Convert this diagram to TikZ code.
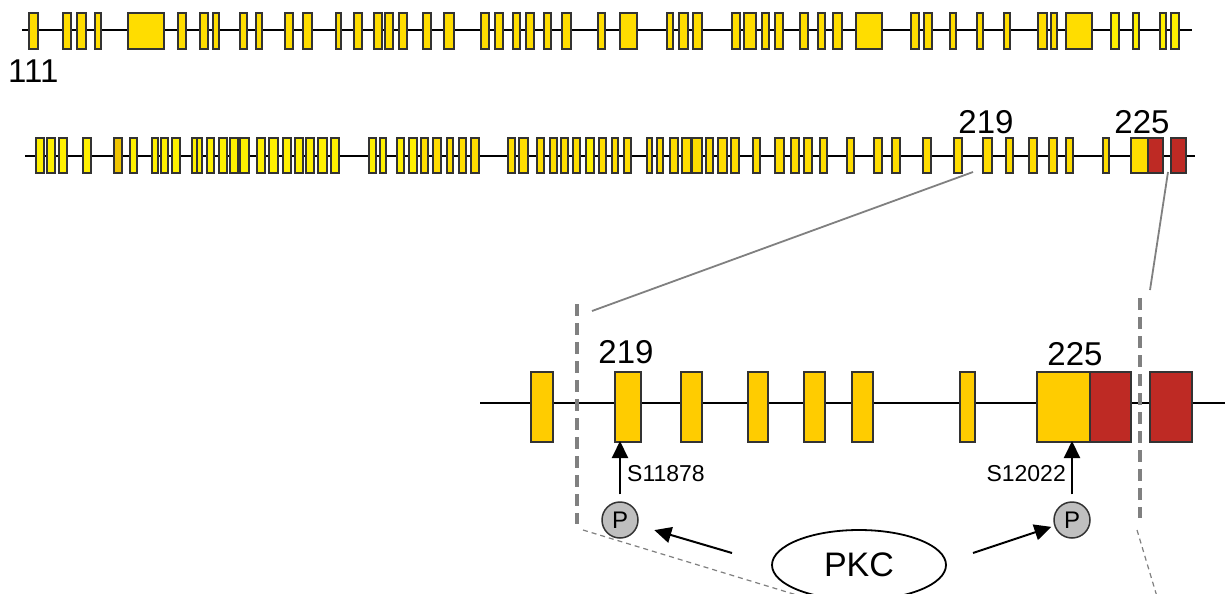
\documentclass[tikz,border=0pt]{standalone}
\usepackage{fontspec}
\setmainfont{Liberation Sans}
\usetikzlibrary{arrows.meta,shapes.geometric}
\definecolor{gold}{HTML}{FFDD00}
\definecolor{bright}{HTML}{FFF000}
\definecolor{darkgold}{HTML}{F0C400}
\definecolor{amber}{HTML}{FFCC00}
\definecolor{exred}{HTML}{BE2A24}
\definecolor{exline}{HTML}{333333}
\definecolor{zoomgray}{HTML}{808080}
\tikzset{
  exon/.style={draw=exline, line width=1.6pt, inner sep=0pt, outer sep=0pt, rectangle},
  genel/.style={line width=1.8pt, draw=black},
  big/.style={font=\fontsize{33}{36}\selectfont, inner sep=0pt},
  small/.style={font=\fontsize{23}{26}\selectfont, inner sep=0pt},
  zoomline/.style={draw=zoomgray, line width=1.8pt},
  zoomdash/.style={draw=zoomgray, line width=3.5pt, dash pattern=on 12pt off 7pt},
  thindash/.style={draw=zoomgray, line width=1.2pt, dash pattern=on 5pt off 4pt},
  arr/.style={draw=black, line width=2pt, -{Triangle[length=17pt,width=16pt]}},
  pcirc/.style={circle, draw=exline, fill=gray!50, line width=1.5pt, minimum size=36pt, inner sep=0pt, font=\fontsize{24}{26}\selectfont},
}
\begin{document}
\begin{tikzpicture}[x=1pt,y=-1pt]
\useasboundingbox (0,0) rectangle (1231,594);
\clip (0,0) rectangle (1231,594);
\fill[white] (0,0) rectangle (1231,594);

% ---------- top row ----------
\coordinate (t0) at (22,30);
\coordinate (tE) at (1192,30);
\draw[genel] (t0) -- (tE);
\foreach \a/\b [count=\i] in {29/38, 63/71, 77/86, 95/101, 128/164, 178/186, 200/208, 213/219, 240/247, 256/262, 285/293, 303/312, 336/341, 354/362, 374/382, 385/393, 399/407, 423/431, 444/454, 481/489, 495/503, 513/520, 526/534, 544/551, 562/571, 598/605, 620/637, 667/673, 679/688, 693/702, 732/740, 744/756, 762/769, 775/783, 800/808, 818/825, 833/842, 856/882, 911/919, 924/932, 950/956, 977/983, 1004/1010, 1038/1047, 1051/1057, 1066/1092}
  \node[exon, fill=gold, minimum width={\b-\a}, minimum height=36] (t\i) at ({(\a+\b)/2},31) {};
\foreach \a/\b [count=\i] in {1111/1119, 1133/1139, 1160/1166, 1171/1179}
  \node[exon, fill=bright, minimum width={\b-\a}, minimum height=36] (tb\i) at ({(\a+\b)/2},31) {};
\node[big, anchor=base west] (l111) at (8,82) {111};

% ---------- second row ----------
\coordinate (r0) at (25,156);
\coordinate (rE) at (1195,156);
\draw[genel] (r0) -- (rE);
\foreach \a/\b [count=\i] in {36/44, 47/55, 59/67, 83/91, 130/137, 152/158, 161/168, 172/180, 192/199, 197/202, 207/214, 219/227, 230/238, 240/249, 257/265, 269/278, 283/291, 295/303, 306/314, 318/327, 331/339, 369/376, 380/386, 397/404, 409/417, 586/594}
  \node[exon, fill=bright, minimum width={\b-\a}, minimum height=35] (rb\i) at ({(\a+\b)/2},155.5) {};
\node[exon, fill=darkgold, minimum width=8, minimum height=35] (rd1) at (118,155.5) {};
\foreach \a/\b [count=\i] in {421/428, 433/441, 447/453, 459/466, 471/479, 508/515, 519/528, 537/544, 550/557, 561/568, 573/580, 599/606, 612/618, 624/631, 647/652, 657/663, 670/678, 682/691, 692/702, 706/713, 718/727, 731/739, 753/760, 775/784, 791/799, 804/812, 820/827, 847/854, 874/882, 892/900, 923/931, 954/962, 983/992, 1006/1013, 1029/1037, 1049/1057, 1066/1073, 1103/1109, 1131/1148}
  \node[exon, fill=gold, minimum width={\b-\a}, minimum height=35] (r\i) at ({(\a+\b)/2},155.5) {};
\node[exon, fill=exred, minimum width=15, minimum height=35] (rr1) at (1155.5,155.5) {};
\node[exon, fill=exred, minimum width=15, minimum height=35] (rr2) at (1178.5,155.5) {};
\node[big, anchor=base] (l219a) at (986,133) {219};
\node[big, anchor=base] (l225a) at (1142,133) {225};

% ---------- zoom connectors ----------
\coordinate (z1a) at (973,172);
\coordinate (z1b) at (592,311);
\coordinate (z2a) at (1168,172);
\coordinate (z2b) at (1150,290);
\draw[zoomline] (z1a) -- (z1b);
\draw[zoomline] (z2a) -- (z2b);
\coordinate (d1t) at (577,304);
\coordinate (d1b) at (577,524);
\coordinate (d2t) at (1140,298);
\coordinate (d2b) at (1140,518);
\coordinate (f1a) at (583,530);
\coordinate (f1b) at (800,596);
\coordinate (f2a) at (1137,530);
\coordinate (f2b) at (1158,600);
\draw[thindash] (f1a) -- (f1b);
\draw[thindash] (f2a) -- (f2b);

% ---------- bottom (zoomed) row ----------
\coordinate (b0) at (480,403);
\coordinate (bE) at (1225,403);
\draw[genel] (b0) -- (bE);
\foreach \a/\b [count=\i] in {531/553, 615/641, 681/702, 748/768, 804/825, 852/873, 960/975, 1037/1090}
  \node[exon, fill=amber, minimum width={\b-\a}, minimum height=70] (b\i) at ({(\a+\b)/2},407) {};
\node[exon, fill=exred, minimum width=41, minimum height=70] (br1) at (1110.5,407) {};
\node[exon, fill=exred, minimum width=42, minimum height=70] (br2) at (1171,407) {};
\draw[zoomdash] (d1t) -- (d1b);
\draw[zoomdash] (d2t) -- (d2b);
\node[big, anchor=base] (l219b) at (626,363) {219};
\node[big, anchor=base] (l225b) at (1075,365) {225};

% ---------- phosphorylation ----------
\node[pcirc] (p1) at (620,520) {P};
\node[pcirc] (p2) at (1072,520) {P};
\draw[arr, shorten <=7pt, shorten >=-1pt] (p1) -- (p1 |- b2.south);
\draw[arr, shorten <=7pt, shorten >=-1pt] (p2) -- (p2 |- b8.south);
\node[small, anchor=west] (s1) at (627,474) {S11878};
\node[small, anchor=east] (s2) at (1066,474) {S12022};

\node[ellipse, draw=black, fill=white, line width=1.8pt, minimum width=174pt, minimum height=70pt, inner sep=0pt, font=\fontsize{34}{38}\selectfont] (pkc) at (859,565) {PKC};
\coordinate (k1) at (732,553);
\coordinate (k2) at (973,553);
\draw[arr, shorten >=17pt] (k1) -- (p1);
\draw[arr, shorten >=3pt] (k2) -- (p2);
\end{tikzpicture}
\end{document}
